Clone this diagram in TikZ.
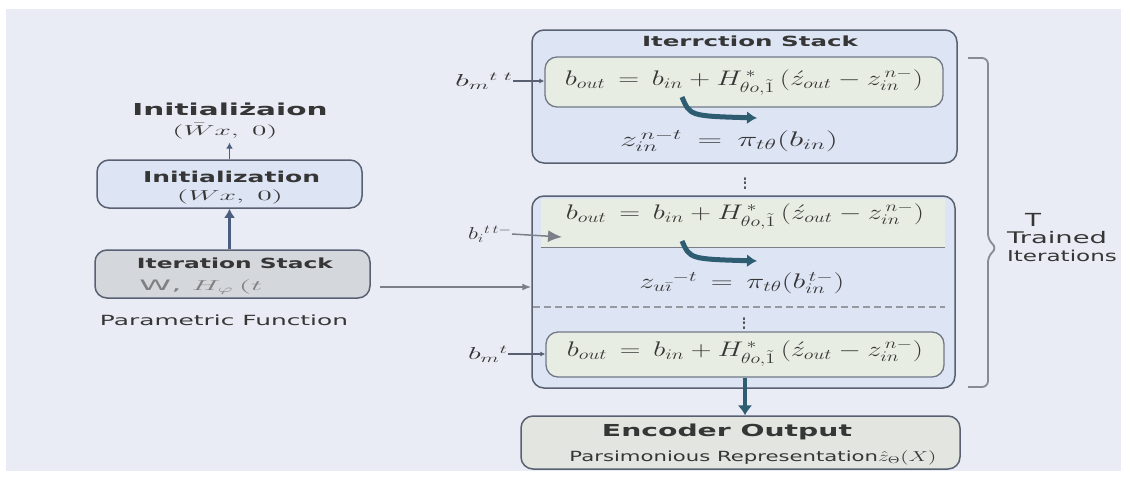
\documentclass[tikz,border=0pt]{standalone}
\usepackage{fontspec}
\usepackage{graphicx}
\setmainfont{DejaVu Sans}
\usetikzlibrary{arrows.meta}
\definecolor{bgc}{HTML}{E9ECF4}
\definecolor{bluef}{HTML}{DDE4F4}
\definecolor{greenf}{HTML}{E8EDE3}
\definecolor{grayf}{HTML}{D4D7DC}
\definecolor{encf}{HTML}{E3E6E0}
\definecolor{bord}{HTML}{586072}
\definecolor{txtc}{HTML}{363636}
\definecolor{arrb}{HTML}{4B5E80}
\definecolor{tealc}{HTML}{2E5D72}
\definecolor{grayl}{HTML}{7A7F88}
\newcommand{\fw}[2]{\resizebox{#1}{\height}{#2}}
\newcommand{\fwm}[2]{\resizebox{#1}{1.22\height}{#2}}
\tikzset{
  box/.style={draw=bord, line width=1.5pt, rounded corners=12pt, inner sep=0pt},
  ibox/.style={draw=bord!85, line width=1.3pt, rounded corners=12pt, inner sep=0pt, fill=greenf},
  txt/.style={inner sep=0pt, outer sep=0pt, text=txtc},
  thinarrow/.style={draw=arrb, line width=1.8pt, -{Latex[length=6pt,width=7pt]}},
  thickarrow/.style={draw=arrb, line width=3pt, -{Latex[length=9pt,width=11pt]}},
  grayarrow/.style={draw=grayl, line width=1.5pt, -{Latex[length=9pt,width=7pt]}},
  smallarrow/.style={draw=bord, line width=1.2pt, -{Latex[length=5pt,width=5pt]}},
  bigtip/.style={draw=grayl, line width=1.5pt, -{Latex[length=14pt,width=12pt]}},
  curv/.style={draw=tealc, line width=5pt, -{Latex[length=10pt,width=13pt]}},
  downarrow/.style={draw=tealc, line width=4.5pt, -{Latex[length=10pt,width=15pt]}},
  dotsn/.style={txt, text=txtc},
}
\begin{document}
\begin{tikzpicture}[x=1pt,y=-1pt]
\useasboundingbox (0,0) rectangle (1127,477);
\fill[white] (0,0) rectangle (1127,477);
\fill[bgc] (6,9) rectangle (1121,471);

% left column
\node[txt] (title1) at (230,109) {\fontsize{16.5}{18}\selectfont\bfseries\fw{195pt}{Initialiżaion}};
\node[txt] (title2) at (225,131) {\fontsize{14.4}{17}\selectfont\fw{105pt}{$(\bar{W}x,\;0)$}};
\node[box, fill=bluef, minimum width=265pt, minimum height=48pt] (init) at (229.5,184) {};
\node[txt] (init1) at (231.5,177) {\fontsize{15}{17}\selectfont\bfseries\fw{177pt}{Initialization}};
\node[txt] (init2) at (230,197) {\fontsize{14.4}{17}\selectfont\fw{106pt}{$(Wx,\;0)$}};
\node[box, fill=grayf, minimum width=275pt, minimum height=48pt] (iter) at (232.5,274) {};
\node[txt] (it1) at (235,263) {\fontsize{14}{16}\selectfont\bfseries\fw{196pt}{Iteration Stack}};
\node[txt, text=gray] (it2) at (201,287) {\fontsize{14.4}{16}\selectfont\fw{123pt}{W, $H_{\varphi}\,(t$}};
\node[txt] (pf) at (224,320) {\fontsize{14}{16}\selectfont\fw{248pt}{Parametric Function}};

\draw[thinarrow] (init.north) -- ([yshift=-4pt]init.north |- title2.south);
\draw[thickarrow] (init.south |- iter.north) -- (init.south);
\coordinate (lstart) at (380,287);
% right: top stack
\node[box, fill=bluef, minimum width=425pt, minimum height=133pt] (outer1) at (744.5,96.5) {};
\node[txt] (ttl) at (750,41) {\fontsize{14}{16}\selectfont\bfseries\fw{216pt}{Iterrction Stack}};
\node[ibox, minimum width=398pt, minimum height=50pt] (inner1) at (744,82) {};
\node[txt] (f1) at (744,82) {\fontsize{17.28}{21}\selectfont\fwm{358pt}{$b_{out} \,=\, b_{in} + H_{\theta o,\tilde{1}}^{\,*}\,(\acute{z}_{out} - z_{in}^{\,n-})$}};
\node[txt] (z1) at (729,141) {\fontsize{17.28}{21}\selectfont\fwm{218pt}{$z_{in}^{\,n-t} \,=\, \pi_{t\theta}(b_{in})$}};
\node[txt] (bm) at (484,81) {\fontsize{17.28}{18}\selectfont\fw{58pt}{$b_{m}{}^{t\;t}$}};
\draw[smallarrow] (bm.east) -- (bm.east -| inner1.west);
\coordinate (c1s) at (682,97);
\coordinate (c1e) at (757,118);
\draw[curv] (c1s) .. controls (690,116) .. (c1e);
\node[dotsn] (dots1) at (745,180) {\fontsize{17.28}{19}\selectfont\fwm{5pt}{$\vdots$}};

% second stack
\node[box, fill=bluef, minimum width=423pt, minimum height=192pt] (outer2) at (743.5,292) {};
\fill[greenf] (541,199) rectangle (945,247);
\node[inner sep=0pt, minimum width=404pt, minimum height=48pt] (band) at (743,223) {};
\draw[draw=grayl, line width=1.3pt] (band.south west) -- (band.south east);
\node[txt] (f2) at (745,216) {\fontsize{17.28}{21}\selectfont\fwm{358pt}{$b_{out} \,=\, b_{in} + H_{\theta o,\tilde{1}}^{\,*}\,(\acute{z}_{out} - z_{in}^{\,n-})$}};
\node[txt] (bi) at (490,234) {\fontsize{17.28}{18}\selectfont\fw{44pt}{$b_{i}{}^{t\,t-}$}};
\coordinate (bitip) at (562,237);
\draw[bigtip] (bi.east) -- (bitip);
\coordinate (c2s) at (682,241);
\coordinate (c2e) at (757,261);
\draw[curv] (c2s) .. controls (690,259) .. (c2e);
\node[txt] (z2) at (742,283) {\fontsize{17.28}{21}\selectfont\fwm{205pt}{$z_{u\bar{\imath}}{}^{-t} \,=\, \pi_{t\theta}(b_{in}^{\,t-})$}};
\draw[grayarrow] (lstart) -- (lstart -| outer2.west);
\draw[draw=grayl!80, line width=1.5pt, dash pattern=on 7pt off 4pt] (533,307) -- (945,307);
\node[dotsn] (dots2) at (744,320) {\fontsize{17.28}{19}\selectfont\fwm{5pt}{$\vdots$}};
\node[ibox, minimum width=398pt, minimum height=45pt] (inner3) at (745,354.5) {};
\node[txt] (f3) at (745,353) {\fontsize{17.28}{21}\selectfont\fwm{356pt}{$b_{out} \,=\, b_{in} + H_{\theta o,\tilde{1}}^{\,*}\,(\acute{z}_{out} - z_{in}^{\,n-})$}};
\node[txt] (bm3) at (488,354) {\fontsize{17.28}{18}\selectfont\fw{40pt}{$b_{m}{}^{t}$}};
\draw[smallarrow] (bm3.east) -- (bm3.east -| inner3.west);

% encoder
\node[box, fill=encf, minimum width=439pt, minimum height=53pt] (enc) at (740.5,442.5) {};
\node[txt] (enc1) at (727,432) {\fontsize{16.5}{18}\selectfont\bfseries\fw{250pt}{Encoder Output}};
\node[txt] (enc2) at (753,458) {\fontsize{14}{16}\selectfont\fw{367pt}{Parsimonious Representation$\hat{z}_{\Theta}(X)$}};
\draw[downarrow] (inner3.south) -- (inner3.south |- enc.north);

% brace
\coordinate (bt) at (968,58);
\coordinate (bb) at (968,387);
\draw[draw=grayl!90, line width=1.8pt, rounded corners=6pt] (bt) -- (988,58) -- (988,240) -- (997,248) -- (988,256) -- (988,387) -- (bb);
\node[txt, text=txtc] (tT) at (1033,220) {\fontsize{18}{20}\selectfont\fw{16pt}{T}};
\node[txt, text=txtc] (tTr) at (1057,238) {\fontsize{16}{18}\selectfont\fw{100pt}{Trained}};
\node[txt, text=txtc] (tIt) at (1062,256) {\fontsize{15}{17}\selectfont\fw{110pt}{Iterations}};
\end{tikzpicture}
\end{document}
